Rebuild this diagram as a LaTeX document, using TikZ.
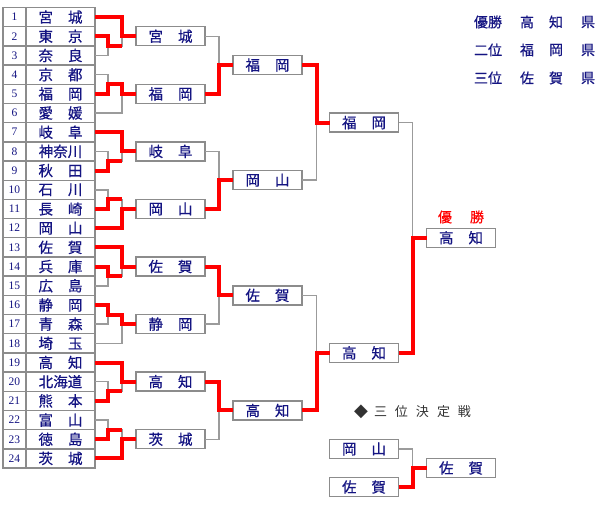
\documentclass[tikz,border=0pt]{standalone}
\usepackage{fontspec}
\setmainfont{Liberation Serif}
\newfontfamily\jp{Noto Sans CJK JP}[FakeBold=0.5]
\newfontfamily\jpl{Noto Sans CJK JP}
\newfontfamily\dv{DejaVu Sans}
\definecolor{navy}{RGB}{20,20,130}
\definecolor{lg}{RGB}{155,155,155}
\definecolor{cellg}{RGB}{140,140,140}
\definecolor{redl}{RGB}{255,0,0}
\definecolor{dk}{RGB}{50,50,50}
\newcommand\twoch[2]{\makebox[44pt]{#1\hfill{}#2}}
\begin{document}
\begin{tikzpicture}[x=1pt,y=-1pt,
  cellbox/.style={draw=cellg, line width=1.4pt, minimum height=19.19pt, inner sep=0pt, outer sep=0pt, text=navy},
  numcell/.style={cellbox, minimum width=23pt, font=\fontsize{11.5}{12}\selectfont},
  namecell/.style={cellbox, minimum width=69pt, font=\jp\fontsize{14.5}{15}\selectfont},
  rbox/.style={draw=cellg, line width=1.4pt, minimum width=69pt, minimum height=19pt, inner sep=0pt, outer sep=0pt, text=navy, fill=white, font=\jp\fontsize{14.5}{15}\selectfont},
  leg/.style={text=navy, inner sep=0pt, font=\jp\fontsize{14}{15}\selectfont},
  lose/.style={draw=lg, line width=1.5pt},
  win/.style={draw=redl, line width=4pt},
]
\useasboundingbox (0,0) rectangle (600,510);
\fill[white] (0,0) rectangle (600,510);
% left table
\foreach \i/\a/\b in {1/宮/城,2/東/京,3/奈/良,4/京/都,5/福/岡,6/愛/媛,7/岐/阜,9/秋/田,10/石/川,11/長/崎,12/岡/山,13/佐/賀,14/兵/庫,15/広/島,16/静/岡,17/青/森,18/埼/玉,19/高/知,21/熊/本,22/富/山,23/徳/島,24/茨/城}{
  \pgfmathsetmacro\yy{7.5+19.19*(\i-0.5)}
  \node[numcell] (n\i) at (14.5,\yy) {\i};
  \node[namecell] (t\i) at (60.5,\yy) {\twoch{\a}{\b}};
}
\foreach \i/\a in {8/神奈川,20/北海道}{
  \pgfmathsetmacro\yy{7.5+19.19*(\i-0.5)}
  \node[numcell] (n\i) at (14.5,\yy) {\i};
  \node[namecell] (t\i) at (60.5,\yy) {\a};
}
% round 2 boxes
\node[rbox] (b1) at (170.5,36.29) {\twoch{宮}{城}};
\node[rbox] (b2) at (170.5,93.86) {\twoch{福}{岡}};
\node[rbox] (b3) at (170.5,151.43) {\twoch{岐}{阜}};
\node[rbox] (b4) at (170.5,209.00) {\twoch{岡}{山}};
\node[rbox] (b5) at (170.5,266.56) {\twoch{佐}{賀}};
\node[rbox] (b6) at (170.5,324.13) {\twoch{静}{岡}};
\node[rbox] (b7) at (170.5,381.70) {\twoch{高}{知}};
\node[rbox] (b8) at (170.5,439.27) {\twoch{茨}{城}};
% round 3
\node[rbox] (c1) at (267.5,65.08) {\twoch{福}{岡}};
\node[rbox] (c2) at (267.5,180.20) {\twoch{岡}{山}};
\node[rbox] (c3) at (267.5,295.35) {\twoch{佐}{賀}};
\node[rbox] (c4) at (267.5,410.49) {\twoch{高}{知}};
% semis
\node[rbox] (d1) at (364,122.64) {\twoch{福}{岡}};
\node[rbox] (d2) at (364,352.92) {\twoch{高}{知}};
% final
\node[rbox] (fin) at (461,237.78) {\twoch{高}{知}};
\node[text=redl, inner sep=0pt, font=\jp\fontsize{14}{15}\selectfont] (yusho) at (461,217) {\makebox[46pt]{優\hfill{}勝}};
% third place
\node[rbox] (e1) at (364,449) {\twoch{岡}{山}};
\node[rbox] (e2) at (364,487) {\twoch{佐}{賀}};
\node[rbox] (e3) at (461,468) {\twoch{佐}{賀}};
\node[text=dk, inner sep=0pt, font=\dv\fontsize{18}{18}\selectfont] (dia) at (361,411.5) {◆};
\node[text=dk, inner sep=0pt, font=\jpl\fontsize{13}{14}\selectfont] (ttl) at (422.5,411.5) {\makebox[97pt]{三\hfill{}位\hfill{}決\hfill{}定\hfill{}戦}};
% legend
\node[leg] (l1) at (488,22) {優勝};
\node[leg] (l2) at (527,22) {高};
\node[leg] (l3) at (556,22) {知};
\node[leg] (l4) at (588,22) {県};
\node[leg] (m1) at (488,50) {二位};
\node[leg] (m2) at (527,50) {福};
\node[leg] (m3) at (556,50) {岡};
\node[leg] (m4) at (588,50) {県};
\node[leg] (p1) at (488,78) {三位};
\node[leg] (p2) at (527,78) {佐};
\node[leg] (p3) at (556,78) {賀};
\node[leg] (p4) at (588,78) {県};
% joints round 1
\coordinate (s1) at (108,45.885);  \coordinate (f1) at (122,36.29);
\coordinate (s2) at (108,84.265);  \coordinate (f2) at (122,93.86);
\coordinate (s3) at (108,161.025); \coordinate (f3) at (122,151.43);
\coordinate (s4) at (108,199.405); \coordinate (f4) at (122,209.00);
\coordinate (s5) at (108,276.155); \coordinate (f5) at (122,266.56);
\coordinate (s6) at (108,314.535); \coordinate (f6) at (122,324.13);
\coordinate (s7) at (108,391.295); \coordinate (f7) at (122,381.70);
\coordinate (s8) at (108,429.675); \coordinate (f8) at (122,439.27);
% losers (gray)
\draw[lose] (t3.east) -| (s1);  \draw[lose] (s1) -| (f1);
\draw[lose] (t4.east) -| (s2);  \draw[lose] (t6.east) -| (f2);
\draw[lose] (t8.east) -| (s3);  \draw[lose] (s3) -| (f3);
\draw[lose] (t10.east) -| (s4); \draw[lose] (s4) -| (f4);
\draw[lose] (t15.east) -| (s5); \draw[lose] (s5) -| (f5);
\draw[lose] (t17.east) -| (s6); \draw[lose] (t18.east) -| (f6);
\draw[lose] (t20.east) -| (s7); \draw[lose] (s7) -| (f7);
\draw[lose] (t22.east) -| (s8); \draw[lose] (s8) -| (f8);
\draw[lose] (b1.east) -| ([xshift=-14pt]c1.west);
\draw[lose] (b3.east) -| ([xshift=-14pt]c2.west);
\draw[lose] (b6.east) -| ([xshift=-14pt]c3.west);
\draw[lose] (b8.east) -| ([xshift=-14pt]c4.west);
\draw[lose] (c2.east) -| ([xshift=-13pt]d1.west);
\draw[lose] (c3.east) -| ([xshift=-13pt]d2.west);
\draw[lose] (d1.east) -| ([xshift=-14pt]fin.west);
\draw[lose] (e1.east) -| ([xshift=-14pt]e3.west);
% winners (red)
\draw[win] (t2.east) -| (s1) -- (s1 -| f1);
\draw[win] (t1.east) -| (f1) -- (b1.west);
\draw[win] (t5.east) -| (s2) -| (f2) -- (b2.west);
\draw[win] (t9.east) -| (s3) -- (s3 -| f3);
\draw[win] (t7.east) -| (f3) -- (b3.west);
\draw[win] (t11.east) -| (s4) -- (s4 -| f4);
\draw[win] (t12.east) -| (f4) -- (b4.west);
\draw[win] (t14.east) -| (s5) -- (s5 -| f5);
\draw[win] (t13.east) -| (f5) -- (b5.west);
\draw[win] (t16.east) -| (s6) -| (f6) -- (b6.west);
\draw[win] (t21.east) -| (s7) -- (s7 -| f7);
\draw[win] (t19.east) -| (f7) -- (b7.west);
\draw[win] (t23.east) -| (s8) -- (s8 -| f8);
\draw[win] (t24.east) -| (f8) -- (b8.west);
\draw[win] (b2.east) -| ([xshift=-14pt]c1.west) -- (c1.west);
\draw[win] (b4.east) -| ([xshift=-14pt]c2.west) -- (c2.west);
\draw[win] (b5.east) -| ([xshift=-14pt]c3.west) -- (c3.west);
\draw[win] (b7.east) -| ([xshift=-14pt]c4.west) -- (c4.west);
\draw[win] (c1.east) -| ([xshift=-13pt]d1.west) -- (d1.west);
\draw[win] (c4.east) -| ([xshift=-13pt]d2.west) -- (d2.west);
\draw[win] (d2.east) -| ([xshift=-14pt]fin.west) -- (fin.west);
\draw[win] (e2.east) -| ([xshift=-14pt]e3.west) -- (e3.west);
\end{tikzpicture}
\end{document}
